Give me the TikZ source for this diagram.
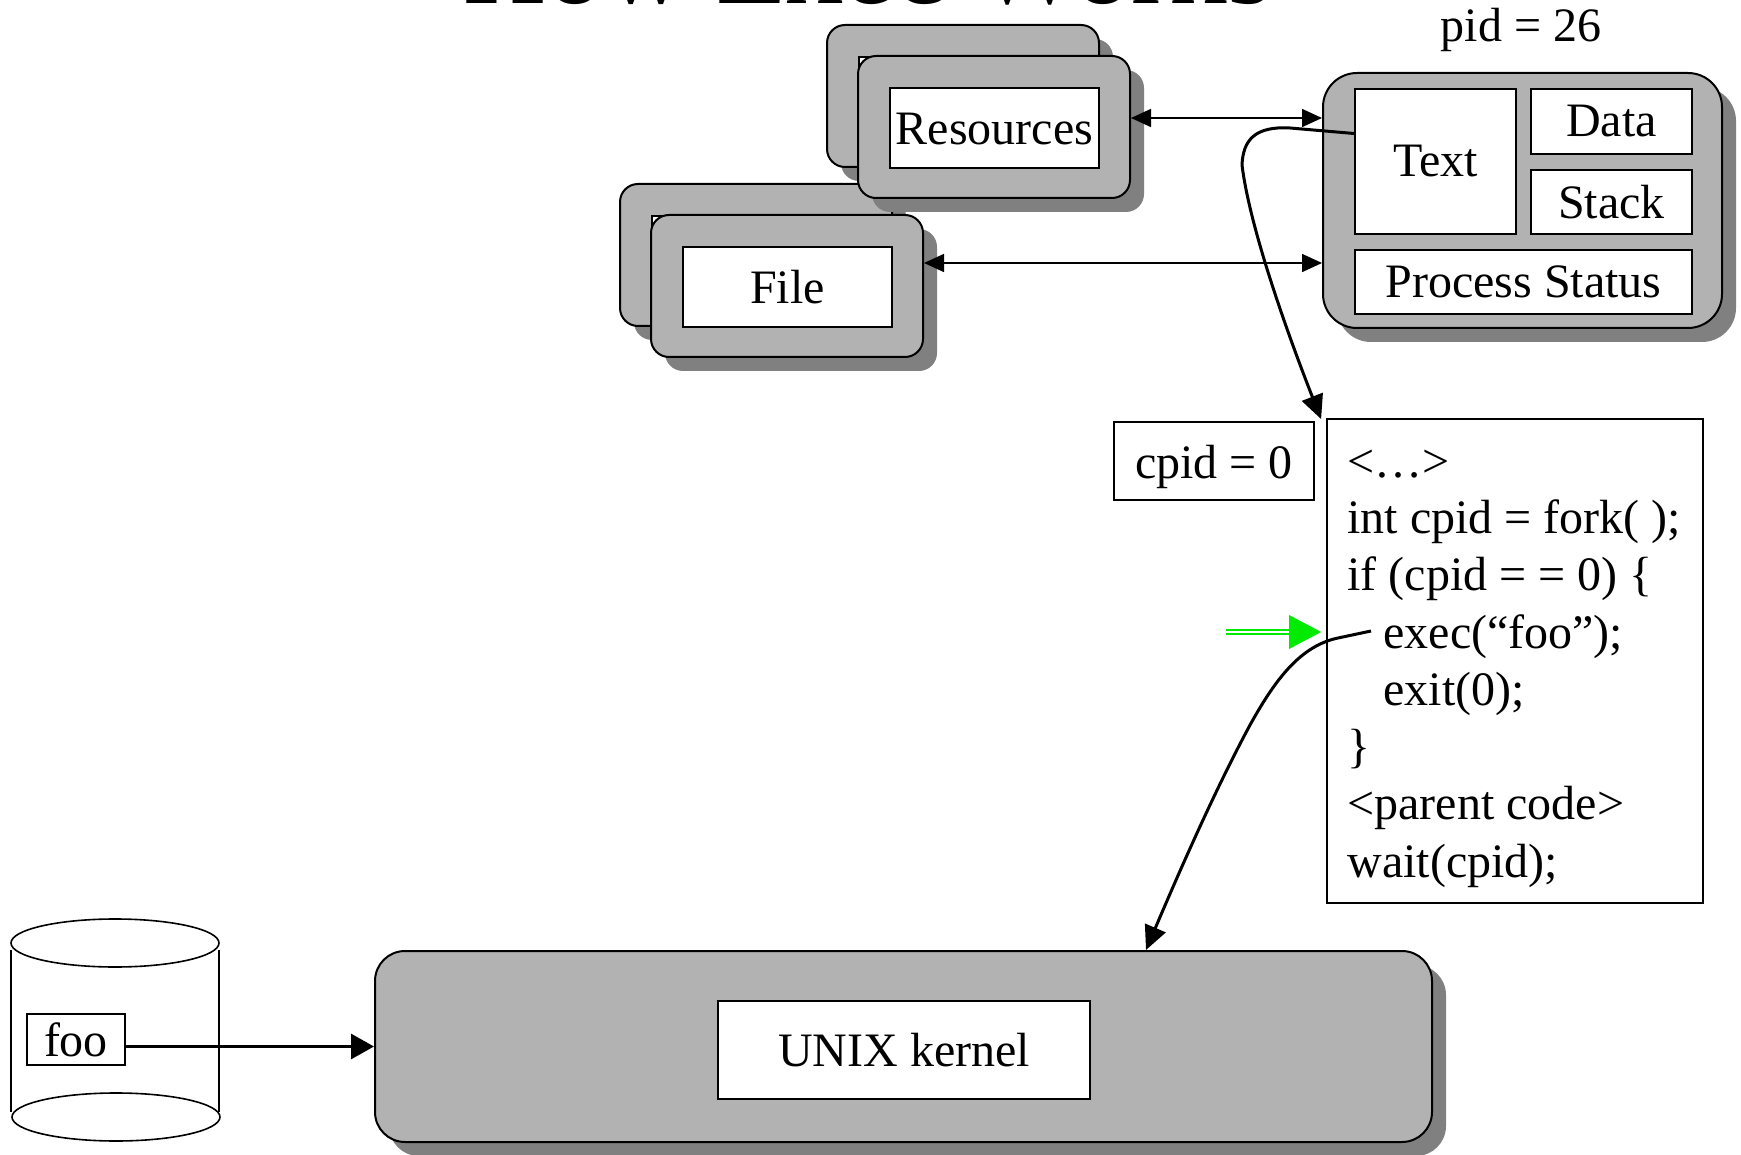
\documentclass[tikz,border=0pt]{standalone}
\usepackage{fontspec}
\setmainfont{Liberation Serif}
\usetikzlibrary{arrows.meta,calc,shadows}
\definecolor{boxgray}{RGB}{178,178,178}
\definecolor{shadowgray}{RGB}{128,128,128}
\definecolor{brightgreen}{RGB}{0,235,0}
\begin{document}
\begin{tikzpicture}[x=0.5pt,y=-0.5pt,
  txt/.style={font=\fontsize{24}{28}\selectfont, inner sep=0pt},
  shbox/.style={draw=black, line width=1pt, fill=boxgray, rounded corners=#1,
     drop shadow={shadow xshift=7pt, shadow yshift=-7pt, fill=shadowgray, opacity=1}},
  wbox/.style={draw=black, line width=0.9pt, fill=white, txt},
  thinarrow/.style={line width=0.8pt, {Triangle[length=10pt,width=9pt]}-{Triangle[length=10pt,width=9pt]}},
  boldarrow/.style={line width=1.5pt, -{Triangle[length=12pt,width=11pt]}},
  codeline/.style={txt, anchor=base west},
]
\useasboundingbox (0,0) rectangle (1741,1155);
\clip (0,0) rectangle (1741,1155);

% title (cut off at the top)
\node[font=\fontsize{57.5}{60}\selectfont, inner sep=0pt, anchor=base] (title) at (868,4) {How Exec Works};

% disk with foo
\draw[line width=0.8pt] (11,950) -- (11,1112);
\draw[line width=0.8pt] (219,950) -- (219,1112);
\draw[line width=0.8pt, fill=white] (115,943) ellipse [x radius=104, y radius=24];
\draw[line width=0.8pt] (116,1117) ellipse [x radius=104, y radius=24];
\node[wbox, minimum width=49pt, minimum height=25.5pt] (foo) at (76,1039.5) {foo};

% File stack
\node[shbox=9pt, minimum width=136pt, minimum height=71pt] (fileB) at (756,255) {};
\node[wbox, minimum width=104.5pt, minimum height=40pt] (fileBi) at (756.5,256) {};
\node[shbox=9pt, minimum width=136pt, minimum height=71pt] (fileF) at (787,286) {};
\node[wbox, minimum width=104.5pt, minimum height=40pt, text height=17pt, text depth=0pt] (fileFi) at (787.5,287) {File};

% Resources stack
\node[shbox=9pt, minimum width=136pt, minimum height=71pt] (resB) at (963,96) {};
\node[wbox, minimum width=104.5pt, minimum height=40pt] (resBi) at (963.5,97) {};
\node[shbox=9pt, minimum width=136pt, minimum height=71pt] (resF) at (994,127) {};
\node[wbox, minimum width=104.5pt, minimum height=40pt, text height=17pt, text depth=0pt] (resFi) at (994.5,128) {Resources};

% process
\node[txt, anchor=base] (pid) at (1521,42) {pid = 26};
\node[shbox=17pt, minimum width=199.5pt, minimum height=127.5pt] (proc) at (1522.5,200.5) {};
\node[wbox, minimum width=80.5pt, minimum height=72.5pt] (text) at (1435.5,161.5) {Text};
\node[wbox, minimum width=80.5pt, minimum height=32.5pt] (data) at (1611.5,121.5) {Data};
\node[wbox, minimum width=80.5pt, minimum height=32pt] (stack) at (1611.5,202) {Stack};
\node[wbox, minimum width=168.5pt, minimum height=32pt] (ps) at (1523.5,282) {Process Status};

% arrows to process
\coordinate (ra) at ($(resF.east)+(0,-9)$);
\draw[thinarrow] (ra) -- (ra -| proc.west);
\coordinate (fa) at ($(fileF.east)+(0,-23)$);
\draw[thinarrow] (fa) -- (fa -| proc.west);

% code
\node[wbox, minimum width=100pt, minimum height=39pt, text height=17pt, text depth=0pt] (cpid) at (1214,461) {cpid = 0};
\node[wbox, minimum width=188pt, minimum height=242pt] (code) at (1515,661) {};
\node[codeline] (c1) at (1347,477) {<…>};
\node[codeline] (c2) at (1347,533) {int cpid = fork( );};
\node[codeline] (c3) at (1347,590) {if (cpid = = 0) \{};
\node[codeline] (c4) at (1383,648) {exec(“foo”);};
\node[codeline] (c5) at (1383,705) {exit(0);};
\node[codeline] (c6) at (1347,762) {\}};
\node[codeline] (c7) at (1347,819) {<parent code>};
\node[codeline] (c8) at (1347,877) {wait(cpid);};

% fork curve
\coordinate (f0) at ($(text.west)+(0,-28)$);
\draw[boldarrow] (f0) -- (1290,128) .. controls (1255,126) and (1243,140) .. (1242,165)
   .. controls (1250,230) and (1290,340) .. ($(code.north west)+(-5,1)$);

% kernel
\node[shbox=15pt, minimum width=528.5pt, minimum height=95.5pt] (kernel) at (903.5,1046.5) {};
\node[wbox, minimum width=186pt, minimum height=49pt] (kin) at (904,1050) {UNIX kernel};

% exec curve
\coordinate (e0) at ($(c4.base west)+(-12,-17)$);
\coordinate (e1) at ($(kernel.north west)+(772,0)$);
\draw[boldarrow] (e0) -- (1338,638) .. controls (1300,646) and (1275,680) .. (1250,725)
   .. controls (1215,790) and (1180,870) .. (e1);

% green pointer
\coordinate (gt) at ($(code.west)+(-5,-29)$);
\coordinate (gs) at ($(gt)+(-95,0)$);
\coordinate (gb) at ($(gt)+(-32,0)$);
\draw[brightgreen, line width=0.8pt] ($(gs)+(0,-2.2)$) -- ($(gb)+(0,-2.2)$);
\draw[brightgreen, line width=0.8pt] ($(gs)+(0,2.2)$) -- ($(gb)+(0,2.2)$);
\fill[brightgreen] (gt) -- ($(gb)+(0,-17)$) -- ($(gb)+(0,17)$) -- cycle;

% foo to kernel
\coordinate (k0) at ($(foo.east)+(0,7)$);
\draw[line width=1.5pt, -{Triangle[length=11.5pt,width=12.5pt]}] (k0) -- (k0 -| kernel.west);
\end{tikzpicture}
\end{document}
